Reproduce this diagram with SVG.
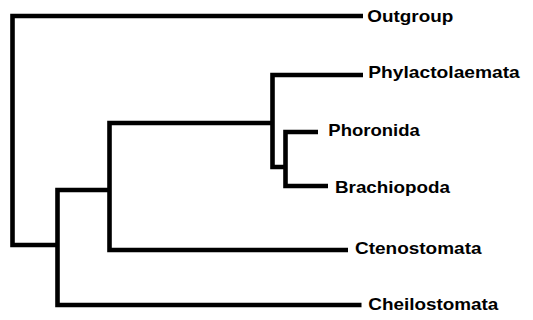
<svg xmlns="http://www.w3.org/2000/svg" width="533" height="320" viewBox="0 0 533 320">
<style>
.e{fill:none;stroke:#000;stroke-width:4.6;stroke-linejoin:miter;stroke-linecap:butt}
.t{font-family:"Liberation Sans",Arial,sans-serif;font-weight:bold;font-size:16.5px;fill:#000}
</style>
<rect width="533" height="320" fill="#fff"/>
<g id="connectors">
<path class="e" d="M363,16 H12.5 V245 H57.5"/>
<path class="e" d="M109.5,190 H57.5 V305 H361.5"/>
<path class="e" d="M272.5,123 H109.5 V250 H348"/>
<path class="e" d="M363,75 H272.5 V167 H285.5"/>
<path class="e" d="M318,132 H285.5 V186 H328"/>
</g>
<g id="outgroup"><text class="t" x="367.3" y="21.8" textLength="86" lengthAdjust="spacingAndGlyphs">Outgroup</text></g>
<g id="phylactolaemata"><text class="t" x="368.3" y="77.7" textLength="151.5" lengthAdjust="spacingAndGlyphs">Phylactolaemata</text></g>
<g id="phoronida"><text class="t" x="328.3" y="136.2" textLength="91.5" lengthAdjust="spacingAndGlyphs">Phoronida</text></g>
<g id="brachiopoda"><text class="t" x="335" y="192.7" textLength="115" lengthAdjust="spacingAndGlyphs">Brachiopoda</text></g>
<g id="ctenostomata"><text class="t" x="355" y="253.8" textLength="126.5" lengthAdjust="spacingAndGlyphs">Ctenostomata</text></g>
<g id="cheilostomata"><text class="t" x="368.3" y="309.8" textLength="130" lengthAdjust="spacingAndGlyphs">Cheilostomata</text></g>
</svg>
